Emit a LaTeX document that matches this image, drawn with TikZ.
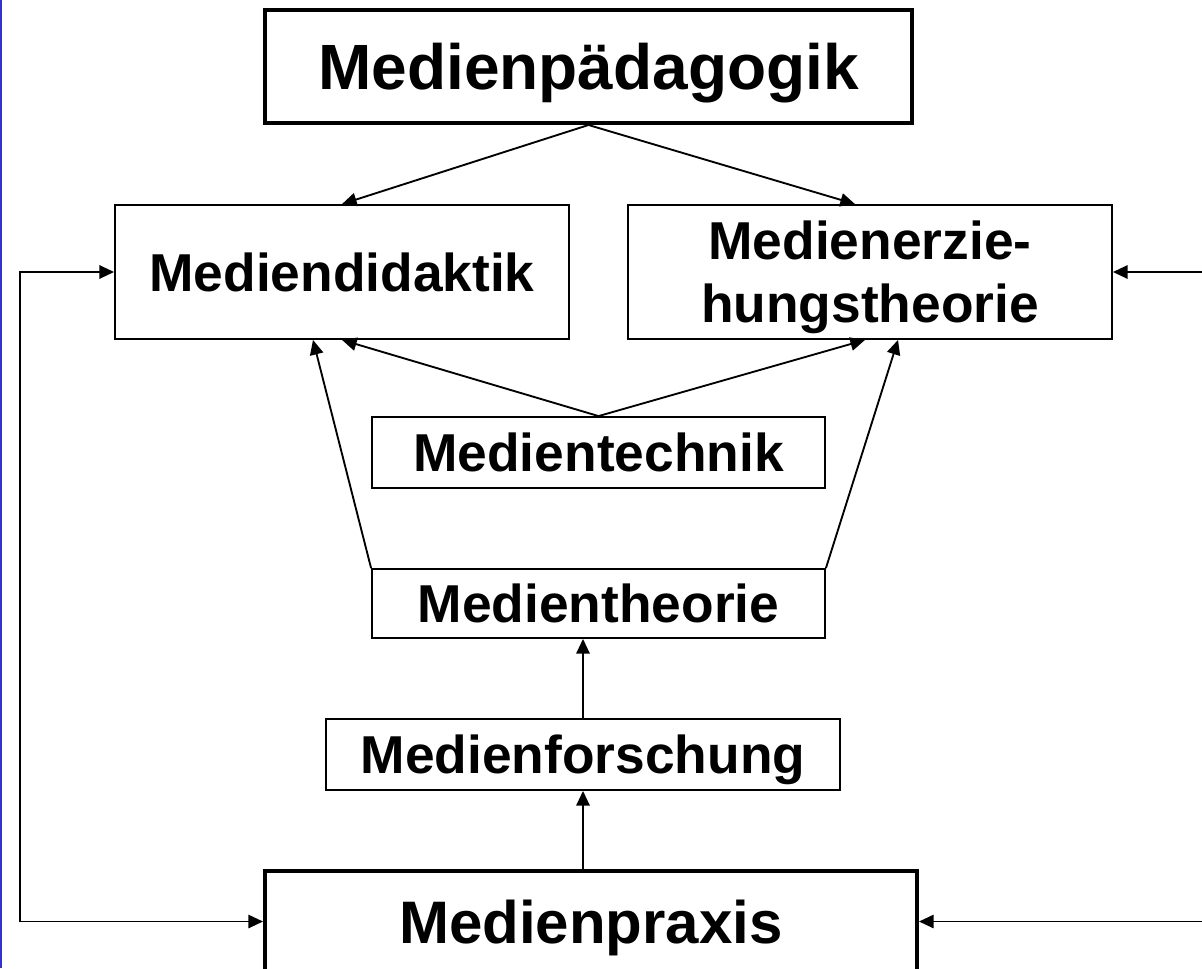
\documentclass[tikz,border=0pt]{standalone}
\usepackage{fontspec}
\setmainfont{Liberation Sans}
\usetikzlibrary{arrows.meta,calc}
\definecolor{randblau}{RGB}{51,51,204}

\begin{document}
\begin{tikzpicture}[x=0.75pt,y=-0.75pt,
    >={Triangle[length=11pt,width=10pt]},
    box/.style={draw, line width=1.4pt, inner sep=0pt, align=center, text depth=0pt,
        font=\bfseries\fontsize{40}{47}\selectfont},
    bigbox/.style={box, line width=3pt},
    pfeil/.style={->, line width=1.4pt}]
    \useasboundingbox (0,0) rectangle (1202,968);

    % Rand links
    \draw[randblau, line width=1.5pt] (1,0) -- (1,968);

    % Kaesten
    \node[bigbox, minimum width=485.25pt, minimum height=84.75pt, font=\bfseries\fontsize{48}{56}\selectfont] (paed) at (588.5,66.5) {Medienpädagogik};
    \node[box, minimum width=340.5pt, minimum height=100.5pt] (didaktik) at (342,272) {Mediendidaktik};
    \node[box, minimum width=363pt, minimum height=100.5pt] (erz) at (870,272) {Medienerzie-\\hungstheorie};
    \node[box, minimum width=339.75pt, minimum height=53.25pt] (technik) at (598.5,452.5) {Medientechnik};
    \node[box, minimum width=339.75pt, minimum height=51.75pt] (theorie) at (598.5,603.5) {Medientheorie};
    \node[box, minimum width=385.5pt, minimum height=53.25pt] (forschung) at (583,754.5) {Medienforschung};
    \node[bigbox, minimum width=489pt, minimum height=75.75pt, font=\bfseries\fontsize{45}{52}\selectfont] (praxis) at (591,921.5) {Medienpraxis};

    % Hilfspunkte fuer die Rueckkopplung
    \coordinate (ltop) at (20,272);
    \coordinate (lbot) at (20,921.5);
    \coordinate (rtop) at (1240,272);
    \coordinate (rbot) at (1240,921.5);

    % Pfeile von oben
    \draw[pfeil] (paed.south) -- (didaktik.north);
    \draw[pfeil] (paed.south) -- ($(erz.north)+(-15,0)$);

    % Pfeile aus der Mitte
    \draw[pfeil] (technik.north) -- (didaktik.south);
    \draw[pfeil] (technik.north) -- ($(erz.south)+(-5,0)$);
    \draw[pfeil] (theorie.north west) -- ($(didaktik.south)+(-29,0)$);
    \draw[pfeil] (theorie.north east) -- ($(erz.south)+(28,0)$);
    \draw[pfeil] (forschung.north) -- (theorie.south -| forschung.north);
    \draw[pfeil] (praxis.north -| forschung.south) -- (forschung.south);

    % Rueckkopplung aussen
    \draw[pfeil, <->] (didaktik.west) -- (ltop) -- (lbot) -- (praxis.west);
    \draw[pfeil, <->] (erz.east) -- (rtop) -- (rbot) -- (praxis.east);
\end{tikzpicture}
\end{document}
